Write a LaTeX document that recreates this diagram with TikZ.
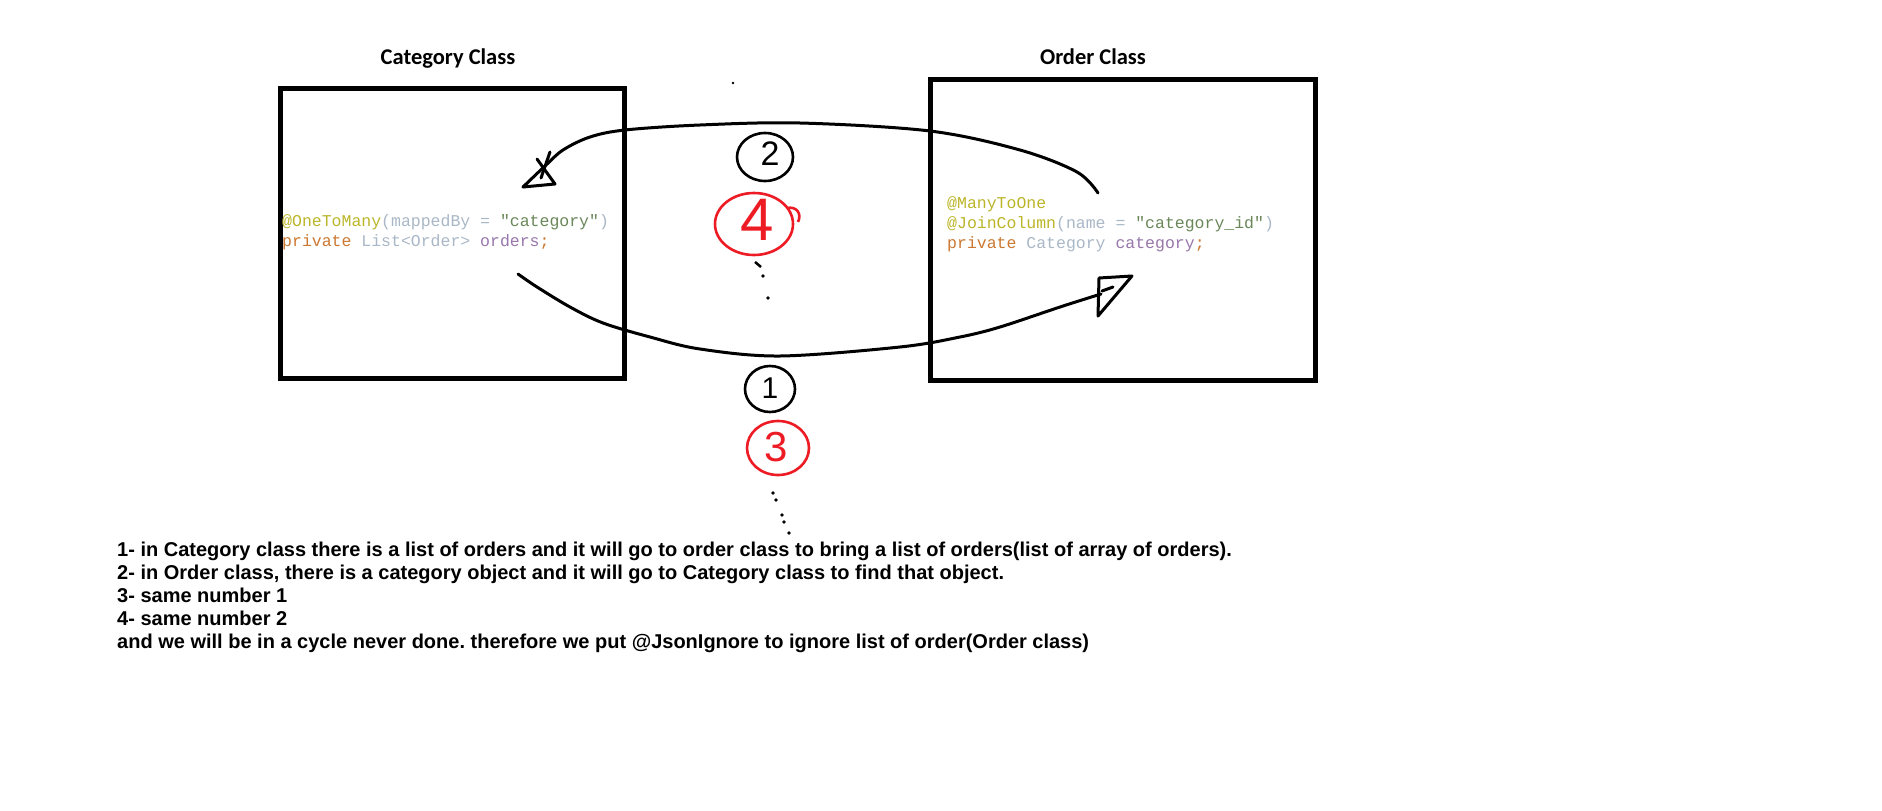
\documentclass[tikz,border=0pt]{standalone}
\usepackage{fontspec}
\setmainfont{Liberation Sans}
\newfontfamily\titlefont{Carlito}
\newfontfamily\codefont{Liberation Mono}
\definecolor{anno}{HTML}{BBB529}
\definecolor{plaincode}{HTML}{A9B7C6}
\definecolor{strg}{HTML}{6A8759}
\definecolor{kw}{HTML}{CC7832}
\definecolor{field}{HTML}{9876AA}
\definecolor{penred}{HTML}{ED1C24}
\frenchspacing
\tikzset{
  classbox/.style={draw=black, line width=5pt, inner sep=0pt, outer sep=0pt},
  classtitle/.style={font=\titlefont\bfseries\fontsize{22.5}{25}\selectfont, anchor=base, inner sep=0pt},
  codeline/.style={font=\codefont\fontsize{16.5}{20}\selectfont, anchor=base west, inner sep=0pt},
  noteline/.style={font=\bfseries\fontsize{20}{23}\selectfont, anchor=base west, inner sep=0pt},
  hand/.style={line width=3pt, line cap=round, line join=round},
  ring/.style={line width=2.6pt},
  digit/.style={font=\fontsize{#1}{#1}\selectfont, inner sep=0pt},
  pendot/.style={fill=black, draw=none},
}
\begin{document}
\begin{tikzpicture}[x=1pt, y=-1pt]
\useasboundingbox (0,0) rectangle (1882,811);

% boxes
\node[classbox, minimum width=344pt, minimum height=290pt] (catbox) at (452,233) {};
\node[classbox, minimum width=384.5pt, minimum height=301pt] (ordbox) at (1122.75,230) {};

% titles
\node[classtitle] (cattitle) at (448,64) {Category Class};
\node[classtitle] (ordtitle) at (1093,64) {Order Class};

% code in Category box
\node[codeline] (catc1) at (282,226) {\textcolor{anno}{@OneToMany}\textcolor{plaincode}{(mappedBy = }\textcolor{strg}{"category"}\textcolor{plaincode}{)}};
\node[codeline] (catc2) at (282,246) {\textcolor{kw}{private }\textcolor{plaincode}{List<Order> }\textcolor{field}{orders}\textcolor{kw}{;}};

% code in Order box
\node[codeline] (ordc1) at (947,208) {\textcolor{anno}{@ManyToOne}};
\node[codeline] (ordc2) at (947,228) {\textcolor{anno}{@JoinColumn}\textcolor{plaincode}{(name = }\textcolor{strg}{"category\_id"}\textcolor{plaincode}{)}};
\node[codeline] (ordc3) at (947,248) {\textcolor{kw}{private }\textcolor{plaincode}{Category }\textcolor{field}{category}\textcolor{kw}{;}};

% upper hand-drawn arrow (2): from Order to Category
\coordinate (ustart) at (1098,193);
\coordinate (utip) at (523,187);
\draw[hand] plot[smooth, tension=0.55] coordinates {(ustart) (1077,172) (1020,150) (930,131) (800,123) (700,125) (625,130) (590,137) (563,150) (545,166) (utip)};
\draw[hand] (utip) -- (555,184) -- (537,159);
\draw[hand] (550,152) -- (541,178);

% lower hand-drawn arrow (1): from Category to Order
\coordinate (lstart) at (518,274);
\coordinate (ltip) at (1101,294);
\draw[hand] plot[smooth, tension=0.55] coordinates {(lstart) (537,287) (570,307) (603,323) (650,337) (700,349) (780,356) (900,347) (960,337) (1000,327) (1060,307) (ltip)};
\draw[hand] (1099,278) -- (1132,276) -- (1098,316) -- (1099,278);
\draw[hand] (1102,291) -- (1113,287);

% circled numbers
\draw[ring] (765,157) ellipse [x radius=28pt, y radius=24pt];
\node[digit=34] (d2) at (770,154) {2};
\draw[ring, penred] (754,224) ellipse [x radius=39pt, y radius=31pt];
\draw[ring, penred] (787,208) .. controls (797,206) and (802,214) .. (798,222);
\node[digit=60, text=penred] (d4) at (757,220) {4};
\draw[ring] (770,389) ellipse [x radius=25pt, y radius=23pt];
\node[digit=30] (d1) at (770,388) {1};
\draw[ring, penred] (778,448) ellipse [x radius=31pt, y radius=27pt];
\node[digit=42, text=penred] (d3) at (776,447) {3};

% dots
\fill[pendot] (733,83) circle [radius=1.3pt];
\draw[line width=2.5pt] (755,262) -- (761,267);
\fill[pendot] (763,276) circle [radius=1.8pt];
\fill[pendot] (768,298) circle [radius=1.8pt];
\fill[pendot] (773,493) circle [radius=1.8pt];
\fill[pendot] (776,500) circle [radius=1.8pt];
\fill[pendot] (782,515) circle [radius=1.8pt];
\fill[pendot] (784,522) circle [radius=1.8pt];
\fill[pendot] (789,533) circle [radius=1.8pt];

% explanation
\node[noteline] (n1) at (117,556) {1- in Category class there is a list of orders and it will go to order class to bring a list of orders(list of array of orders).};
\node[noteline] (n2) at (117,579) {2- in Order class, there is a category object and it will go to Category class to find that object.};
\node[noteline] (n3) at (117,602) {3- same number 1};
\node[noteline] (n4) at (117,625) {4- same number 2};
\node[noteline] (n5) at (117,648) {and we will be in a cycle never done. therefore we put @JsonIgnore to ignore list of order(Order class)};
\end{tikzpicture}
\end{document}
